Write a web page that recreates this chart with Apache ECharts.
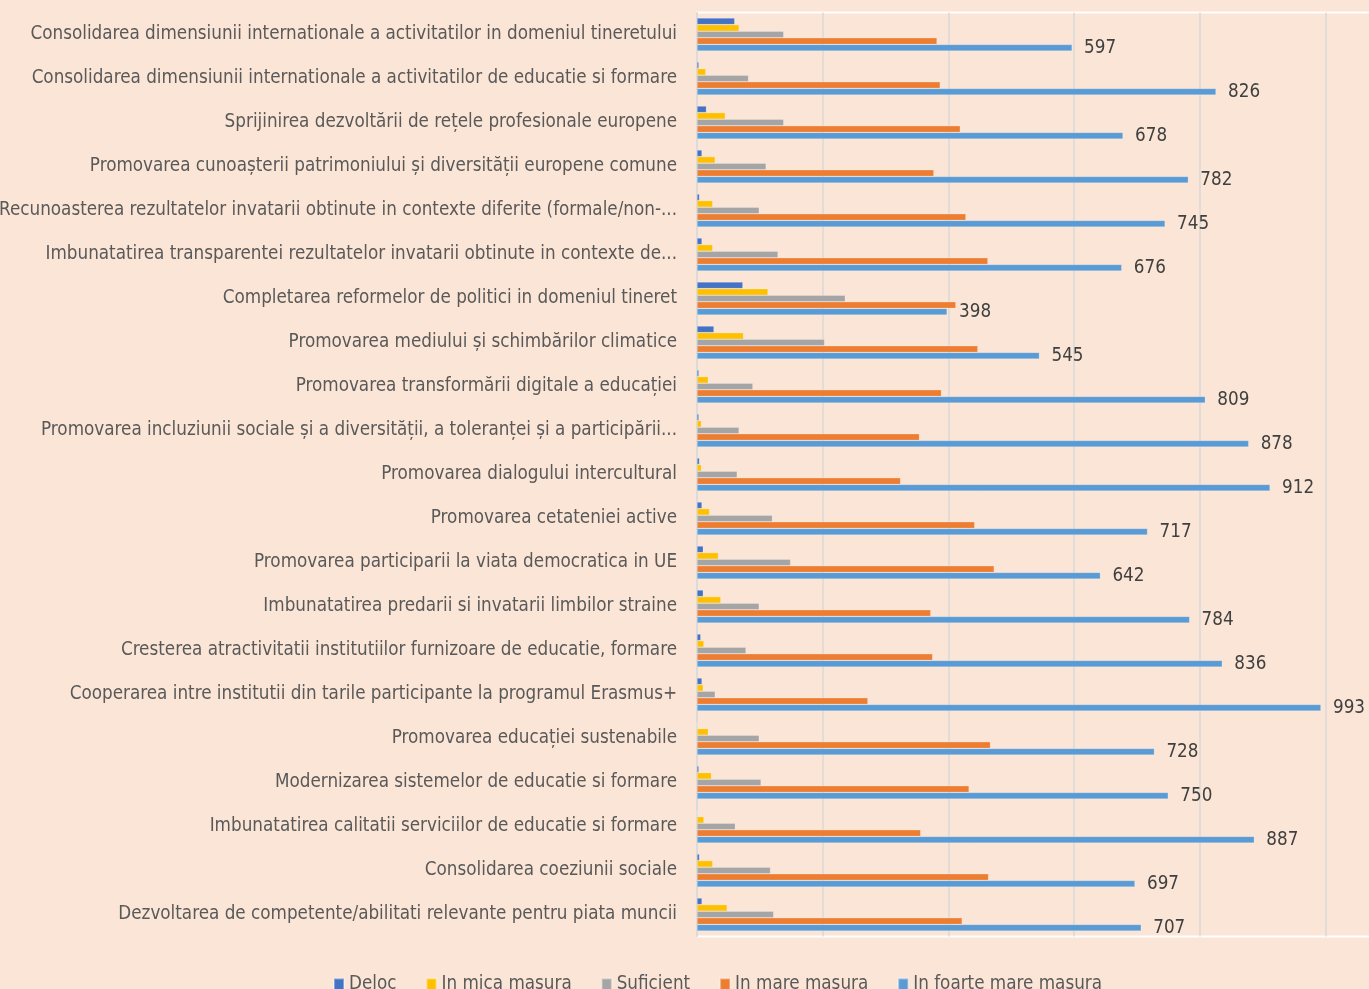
<!DOCTYPE html>
<html>
<head>
<meta charset="utf-8">
<script src="https://cdn.jsdelivr.net/npm/echarts@6/dist/echarts.min.js"></script>
<style>
  html, body { margin: 0; padding: 0; background: #fbe5d6; }
  #chart { width: 1369px; height: 989px; }
</style>
</head>
<body>
<div id="chart"></div>
<script>
// categories, top to bottom as in the picture
const categories = [
  'Consolidarea dimensiunii internationale a activitatilor in domeniul tineretului',
  'Consolidarea dimensiunii internationale a activitatilor de educatie si formare',
  'Sprijinirea dezvoltării de rețele profesionale europene',
  'Promovarea cunoașterii patrimoniului și diversității europene comune',
  'Recunoasterea rezultatelor invatarii obtinute in contexte diferite (formale/non-...',
  'Imbunatatirea transparentei rezultatelor invatarii obtinute in contexte de...',
  'Completarea reformelor de politici in domeniul tineret',
  'Promovarea mediului și schimbărilor climatice',
  'Promovarea transformării digitale a educației',
  'Promovarea incluziunii sociale și a diversității, a toleranței și a participării...',
  'Promovarea dialogului intercultural',
  'Promovarea cetateniei active',
  'Promovarea participarii la viata democratica in UE',
  'Imbunatatirea predarii si invatarii limbilor straine',
  'Cresterea atractivitatii institutiilor furnizoare de educatie, formare',
  'Cooperarea intre institutii din tarile participante la programul Erasmus+',
  'Promovarea educației sustenabile',
  'Modernizarea sistemelor de educatie si formare',
  'Imbunatatirea calitatii serviciilor de educatie si formare',
  'Consolidarea coeziunii sociale',
  'Dezvoltarea de competente/abilitati relevante pentru piata muncii'
];

const seriesNames = ['Deloc', 'In mica masura', 'Suficient', 'In mare masura', 'In foarte mare masura'];

const deloc      = [60, 3, 15, 8, 4, 8, 73, 27, 3, 3, 4, 8, 10, 10, 6, 8, 0, 3, 0, 4, 8];
const micaMasura = [67, 14, 45, 29, 25, 25, 113, 74, 18, 7, 7, 20, 34, 38, 11, 10, 18, 23, 11, 25, 48];
const suficient  = [138, 82, 138, 110, 99, 129, 236, 203, 89, 67, 64, 120, 149, 99, 78, 29, 99, 102, 61, 117, 122];
const mareMasura = [382, 387, 419, 377, 428, 463, 412, 447, 389, 354, 324, 442, 473, 372, 375, 272, 467, 433, 356, 464, 422];
const foarteMare = [597, 826, 678, 782, 745, 676, 398, 545, 809, 878, 912, 717, 642, 784, 836, 993, 728, 750, 887, 697, 707];

const colors = ['#4472c4', '#ffc000', '#a5a5a5', '#ed7d31', '#5b9bd5'];
const values = [deloc, micaMasura, suficient, mareMasura, foarteMare];

const FONT = '"Liberation Sans Narrow", "DejaVu Sans Condensed", sans-serif';

const chart = echarts.init(document.getElementById('chart'));

const series = seriesNames.map((name, i) => ({
  name: name,
  type: 'bar',
  data: values[i],
  barWidth: 6.6,
  barGap: '0%',
  itemStyle: {
    color: colors[i],
    borderColor: 'rgba(255,255,255,0.35)',
    borderWidth: 0.6
  },
  label: i === 4 ? {
    show: true,
    position: 'right',
    distance: 12,
    padding: [3, 0, 0, 0],
    color: '#404040',
    fontFamily: FONT,
    fontSize: 18.7
  } : { show: false }
}));

chart.setOption({
  backgroundColor: '#fbe5d6',
  animation: false,
  color: colors,
  grid: {
    left: 697,
    top: 12.5,
    width: 754,
    height: 924,
    show: true,
    borderColor: '#ffffff',
    borderWidth: 2,
    backgroundColor: 'transparent',
    containLabel: false,
    outerBoundsMode: 'none'
  },
  legend: {
    data: seriesNames,
    top: 970,
    left: 328,
    icon: 'rect',
    itemWidth: 10,
    itemHeight: 12,
    itemGap: 29,
    textStyle: { color: '#595959', fontFamily: FONT, fontSize: 18.7 }
  },
  xAxis: {
    type: 'value',
    min: 0,
    max: 1200,
    interval: 200,
    axisLabel: { show: false },
    axisLine: { show: false },
    axisTick: { show: false },
    splitLine: { lineStyle: { color: '#d9d9d9', width: 1.5 } }
  },
  yAxis: {
    type: 'category',
    data: categories,
    inverse: true,
    axisTick: { show: false },
    axisLine: { lineStyle: { color: '#d9d9d9', width: 1.5 } },
    axisLabel: {
      color: '#595959',
      fontFamily: FONT,
      fontSize: 18.7,
      margin: 20,
      padding: [4, 0, 0, 0]
    }
  },
  series: series
});
</script>
</body>
</html>
